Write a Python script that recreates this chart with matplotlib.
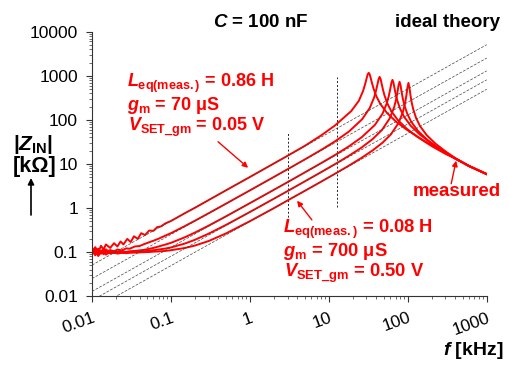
import numpy as np
import matplotlib.pyplot as plt

plt.rcParams['font.family'] = ['Liberation Sans', 'DejaVu Sans']
plt.rcParams['mathtext.fontset'] = 'custom'
plt.rcParams['mathtext.rm'] = 'Liberation Sans:bold'
plt.rcParams['mathtext.it'] = 'Liberation Sans:italic:bold'
plt.rcParams['mathtext.bf'] = 'Liberation Sans:bold'

# measured |Z_IN| curves, f in kHz, Z in kOhm (largest L_eq first)
f_1 = [0.01, 0.011, 0.012, 0.013, 0.014, 0.015, 0.017, 0.019, 0.021, 0.023, 0.025, 0.028,
       0.031, 0.034, 0.038, 0.042, 0.047, 0.053, 0.06, 0.067, 0.075, 0.085, 0.1,
       0.15, 0.2, 0.3, 0.5, 1, 2, 3, 5, 8, 12,
       19.2, 24, 27.2, 28.8, 30.1, 31.0, 32, 32.96, 33.9, 35.2, 36.8, 40, 44.8, 54.4, 70.4, 96,
       150, 250, 400, 600, 1000]
z_1 = [0.105, 0.13, 0.10, 0.14, 0.115, 0.15, 0.125, 0.16, 0.135, 0.175, 0.15, 0.2,
       0.17, 0.23, 0.2, 0.27, 0.245, 0.31, 0.305, 0.37, 0.385, 0.45, 0.51,
       0.767, 1.01, 1.52, 2.54, 5.07, 10.2, 15.35, 26.0, 44.5, 75.0,
       158, 270.5, 457, 642, 871, 1069, 1168, 1074, 894, 688, 519, 344, 232, 144.7, 92.6, 60.7,
       36.2, 21.1, 13.3, 9.0, 5.9]

f_2 = [0.01, 0.011, 0.012, 0.013, 0.014, 0.015, 0.017, 0.019, 0.021, 0.024, 0.027, 0.03,
       0.035, 0.04, 0.046, 0.053, 0.06, 0.07, 0.085, 0.1,
       0.15, 0.2, 0.3, 0.5, 1, 2, 3, 5, 8, 12, 18,
       26.4, 33, 37.4, 39.6, 41.4, 42.7, 44, 45.3, 46.6, 48.4, 50.6, 55, 61.6, 74.8, 96.8, 132,
       200, 300, 400, 600, 1000]
z_2 = [0.115, 0.09, 0.12, 0.095, 0.118, 0.1, 0.112, 0.104, 0.115, 0.11, 0.122, 0.12,
       0.135, 0.138, 0.153, 0.168, 0.182, 0.203, 0.238, 0.27,
       0.391, 0.514, 0.763, 1.264, 2.52, 5.05, 7.6, 12.77, 20.85, 32.7, 54.5,
       103.4, 186.3, 319, 459, 649, 837, 943, 843, 670, 495, 365, 238, 159.4, 99.2, 63.4, 41.5,
       25.6, 17.0, 13.3, 9.0, 5.9]

f_3 = [0.01, 0.011, 0.012, 0.013, 0.014, 0.015, 0.017, 0.019, 0.021, 0.024, 0.027, 0.03,
       0.035, 0.04, 0.046, 0.053, 0.06, 0.07, 0.085, 0.1,
       0.15, 0.2, 0.3, 0.5, 1, 2, 3, 5, 8, 12, 18, 26,
       38.4, 48, 54.4, 57.6, 60.2, 62.1, 64, 65.9, 67.8, 70.4, 73.6, 80, 89.6, 108.8, 140.8, 192,
       300, 400, 600, 1000]
z_3 = [0.092, 0.122, 0.085, 0.11, 0.098, 0.116, 0.096, 0.108, 0.1, 0.106, 0.101, 0.105,
       0.107, 0.11, 0.113, 0.119, 0.125, 0.135, 0.149, 0.163,
       0.218, 0.277, 0.40, 0.653, 1.295, 2.58, 3.87, 6.49, 10.48, 16.04, 25.2, 40.2,
       77.1, 139.2, 241, 353, 515, 695, 809, 700, 533, 382, 277, 179, 119, 73.9, 47.2, 30.9,
       18.0, 13.4, 9.0, 5.9]

f_4 = [0.01, 0.011, 0.012, 0.013, 0.014, 0.015, 0.017, 0.019, 0.021, 0.024, 0.027, 0.03,
       0.035, 0.04, 0.046, 0.053, 0.06, 0.07, 0.085, 0.1,
       0.15, 0.2, 0.3, 0.5, 1, 2, 3, 5, 8, 12, 18, 26, 36,
       47.2, 59.0, 66.9, 70.8, 74.0, 76.3, 78.7, 81.1, 83.4, 86.6, 90.5, 98.4, 110.2, 133.8, 173.1, 236,
       400, 600, 1000]
z_4 = [0.108, 0.085, 0.118, 0.092, 0.105, 0.088, 0.102, 0.095, 0.1, 0.097, 0.099, 0.1,
       0.101, 0.103, 0.105, 0.108, 0.111, 0.115, 0.121, 0.128,
       0.157, 0.19, 0.263, 0.417, 0.816, 1.62, 2.43, 4.07, 6.55, 9.95, 15.4, 23.6, 36.9,
       59.4, 107.7, 188.6, 279, 421, 600, 733, 606, 438, 304, 217, 138.9, 91.7, 57.0, 36.4, 23.9,
       13.2, 8.9, 5.9]

f_5 = [0.01, 0.011, 0.012, 0.013, 0.014, 0.015, 0.017, 0.019, 0.021, 0.024, 0.027, 0.03,
       0.035, 0.04, 0.046, 0.053, 0.06, 0.07, 0.085, 0.1,
       0.15, 0.2, 0.3, 0.5, 1, 2, 3, 5, 8, 12, 18, 26, 36, 48,
       61.2, 76.5, 86.7, 91.8, 95.9, 98.9, 102, 105.1, 108.1, 112.2, 117.3, 127.5, 142.8, 173.4, 224.4, 306,
       400, 600, 1000]
z_5 = [0.1, 0.11, 0.082, 0.105, 0.09, 0.1, 0.094, 0.098, 0.093, 0.097, 0.095, 0.097,
       0.098, 0.099, 0.1, 0.101, 0.103, 0.104, 0.107, 0.111,
       0.1246, 0.141, 0.179, 0.267, 0.505, 0.99, 1.49, 2.48, 3.98, 6.02, 9.2, 13.8, 20.4, 30.5,
       47.1, 85.3, 151, 226, 351, 531, 692, 538, 367, 247, 174, 110.6, 72.7, 45.2, 28.9, 18.9,
       13.6, 8.9, 5.9]

measured_f = [f_1, f_2, f_3, f_4, f_5]
measured_z = [z_1, z_2, z_3, z_4, z_5]

# ideal theory lines |Z| = wL, given by their ends at 0.01 kHz and 1000 kHz
theory_f = [0.01, 1000]
theory_z = [[0.051, 5070], [0.0252, 2520], [0.0129, 1290], [0.0081, 810], [0.00495, 495]]

# dotted markers at 3 kHz and 12.7 kHz
marker_f = [3.05, 12.7]
marker_z = [[0.5, 50], [1.05, 950]]

x_ticks = [0.01, 0.1, 1, 10, 100, 1000]
x_labels = ['0.01', '0.1', '1', '10', '100', '1000']
y_ticks = [0.01, 0.1, 1, 10, 100, 1000, 10000]
y_labels = ['0.01', '0.1', '1', '10', '100', '1000', '10000']

red = '#ff0000'
W, H = 508, 365

fig = plt.figure(figsize=(W / 100, H / 100), dpi=100)
ax = fig.add_axes([92 / W, 1 - 296.3 / H, 394.7 / W, 264.6 / H])
ax.set_xscale('log')
ax.set_yscale('log')
ax.set_xlim(0.01, 1000)
ax.set_ylim(0.01, 10000)

for fz, zz in zip(marker_f, marker_z):
    ax.plot([fz, fz], zz, color='#222222', lw=0.7, ls=(0, (2, 2)), zorder=1)

for ff, zz in zip(measured_f, measured_z):
    ax.plot(ff, zz, color=red, lw=1.4, zorder=2)

for zz in theory_z:
    ax.plot(theory_f, zz, color='#444444', lw=0.5, ls=(0, (4, 2)), zorder=3)

for s in ['top', 'right']:
    ax.spines[s].set_visible(False)
for s in ['left', 'bottom']:
    ax.spines[s].set_color('#333333')
    ax.spines[s].set_linewidth(0.8)

ax.set_xticks(x_ticks)
ax.set_xticklabels(x_labels)
ax.set_yticks(y_ticks)
ax.set_yticklabels(y_labels)
ax.tick_params(which='major', direction='out', length=4, width=0.8, color='#333333',
               labelsize=12.5, pad=6)
ax.tick_params(which='minor', direction='out', length=2.5, width=0.6, color='#555555')
plt.setp(ax.get_xticklabels(), rotation=20, ha='right', rotation_mode='anchor')


def ftext(x, y, s, **kw):
    fig.text(x / W, 1 - y / H, s, va='baseline', fontweight='bold', **kw)


ftext(213, 26.7, r'$C$ = 100 nF', fontsize=13.5)
ftext(395, 27, 'ideal theory', fontsize=13.5)

ftext(126.7, 87, r'$L_{\mathrm{eq(meas.)}}$ = 0.86 H', fontsize=13, color=red)
ftext(126.7, 110, r'$g_{\mathrm{m}}$ = 70 μS', fontsize=13, color=red)
ftext(127.5, 131, r'$V_{\mathrm{SET\_gm}}$ = 0.05 V', fontsize=13, color=red)

ftext(283.3, 233, r'$L_{\mathrm{eq(meas.)}}$ = 0.08 H', fontsize=13.2, color=red)
ftext(283.3, 256, r'$g_{\mathrm{m}}$ = 700 μS', fontsize=13.2, color=red)
ftext(284, 277, r'$V_{\mathrm{SET\_gm}}$ = 0.50 V', fontsize=13.2, color=red)

ftext(413, 196, 'measured', fontsize=13.5, color=red)

ftext(13, 150, r'|$Z_{\mathrm{IN}}$|', fontsize=15)
ftext(13, 172, '[kΩ]', fontsize=15.5)
ftext(443, 355, r'$f$ [kHz]', fontsize=14)

# arrows pointing from the labels to the curves
arrow_red = dict(arrowstyle='-|>', color=red, lw=1.0, mutation_scale=8, shrinkA=0, shrinkB=0)
ax.annotate('', xy=(0.95, 8.2), xytext=(0.395, 32), arrowprops=arrow_red)
ax.annotate('', xy=(3.96, 1.47), xytext=(6.1, 0.54), arrowprops=arrow_red)
ax.annotate('', xy=(410, 11.9), xytext=(355, 3.56), arrowprops=arrow_red)
ax.annotate('', xy=(31 / W, 1 - 178 / H), xytext=(31 / W, 1 - 215 / H),
            xycoords='figure fraction', textcoords='figure fraction',
            arrowprops=dict(arrowstyle='-|>', color='black', lw=1.2, mutation_scale=9,
                            shrinkA=0, shrinkB=0))

fig.savefig('out.png', dpi=100)
